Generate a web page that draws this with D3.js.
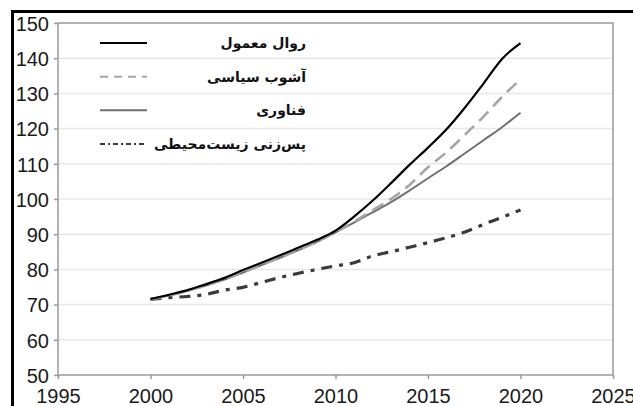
<!DOCTYPE html>
<html>
<head>
<meta charset="utf-8">
<script src="https://cdn.jsdelivr.net/npm/d3@7"></script>
<style>
  body { margin: 0; background: #fff; }
  svg { display: block; }
</style>
</head>
<body>
<svg></svg>
<script>
const width = 633;
const height = 406;
const svg = d3.select("svg").attr("width", width).attr("height", height);

const years = d3.range(2000, 2021);
const businessAsUsual = [71.6, 72.8, 74.1, 75.8, 77.6, 79.8, 81.9, 84.0, 86.2, 88.4, 91.0, 95.0, 99.5, 104.5, 109.7, 114.6, 119.8, 126.0, 132.8, 139.8, 144.3];
const politicalTurmoil = [71.5, 72.6, 73.9, 75.5, 77.2, 79.2, 81.3, 83.4, 85.6, 87.9, 90.6, 93.5, 96.8, 100.0, 104.0, 109.0, 113.3, 118.3, 123.4, 129.0, 134.0];
const technology = [71.5, 72.6, 73.9, 75.4, 77.1, 79.1, 81.2, 83.3, 85.5, 87.8, 90.5, 93.3, 96.2, 99.1, 102.4, 105.9, 109.3, 113.0, 116.7, 120.4, 124.5];
const envBacklash = [71.5, 72.0, 72.3, 72.9, 74.1, 74.9, 76.3, 77.7, 78.9, 80.0, 81.0, 81.9, 83.8, 85.0, 86.3, 87.6, 89.0, 90.6, 92.8, 94.8, 96.9];

const xTicks = [1995, 2000, 2005, 2010, 2015, 2020, 2025];
const yTicks = [50, 60, 70, 80, 90, 100, 110, 120, 130, 140, 150];

const series = [
  { name: "روال معمول", values: businessAsUsual, color: "#000", width: 2.2, dash: null, legendDash: null },
  { name: "آشوب سیاسی", values: politicalTurmoil, color: "#a6a6a6", width: 2.6, dash: "13,7", legendDash: "8,6" },
  { name: "فناوری", values: technology, color: "#707070", width: 2, dash: null, legendDash: null },
  { name: "پس‌زنی زیست‌محیطی", values: envBacklash, color: "#3a3a3a", width: 3.2, dash: "11,7,4,7", legendDash: "5,3,2,3" }
];

const margin = { left: 58, right: 20, top: 23, bottom: 31 };
const x = d3.scaleLinear().domain([1995, 2025]).range([margin.left, width - margin.right]);
const y = d3.scaleLinear().domain([50, 150]).range([height - margin.bottom, margin.top]);

// gridlines
svg.append("g")
  .selectAll("line")
  .data(yTicks.slice(1, -1))
  .join("line")
  .attr("x1", x(1995)).attr("x2", x(2025))
  .attr("y1", d => y(d)).attr("y2", d => y(d))
  .attr("stroke", "#e8e8e8")
  .attr("stroke-width", 1.5);

// plot frame
svg.append("rect")
  .attr("x", x(1995)).attr("y", y(150))
  .attr("width", x(2025) - x(1995)).attr("height", y(50) - y(150))
  .attr("fill", "none")
  .attr("stroke", "#9a9a9a")
  .attr("stroke-width", 1.5);

const xAxis = svg.append("g")
  .attr("transform", `translate(0,${y(50)})`)
  .call(d3.axisBottom(x).tickValues(xTicks).tickFormat(d3.format("d")).tickSize(4).tickPadding(10));
const yAxis = svg.append("g")
  .attr("transform", `translate(${x(1995)},0)`)
  .call(d3.axisLeft(y).tickValues(yTicks).tickSize(4).tickPadding(5));

[xAxis, yAxis].forEach(g => {
  g.select(".domain").remove();
  g.selectAll(".tick line").attr("stroke", "#9a9a9a").attr("stroke-width", 1.5);
  g.selectAll("text")
    .attr("fill", "#1a1a1a")
    .style("font-family", "'Liberation Sans', Arial, sans-serif")
    .style("font-size", "20px");
});
yAxis.selectAll("text").attr("dy", "0.36em");

const line = d3.line()
  .x((d, i) => x(years[i]))
  .y(d => y(d))
  .curve(d3.curveMonotoneX);

svg.append("g")
  .selectAll("path")
  .data(series.slice().reverse())
  .join("path")
  .attr("d", d => line(d.values))
  .attr("fill", "none")
  .attr("stroke", d => d.color)
  .attr("stroke-width", d => d.width)
  .attr("stroke-dasharray", d => d.dash)
  .attr("stroke-linejoin", "round");

// legend
const legendY = d3.scalePoint().domain(series.map(d => d.name)).range([43, 144]);
const legend = svg.append("g");
legend.selectAll("line")
  .data(series)
  .join("line")
  .attr("x1", 100).attr("x2", 147)
  .attr("y1", d => legendY(d.name)).attr("y2", d => legendY(d.name))
  .attr("stroke", d => d.color)
  .attr("stroke-width", d => Math.min(d.width, 2))
  .attr("stroke-dasharray", d => d.legendDash);
legend.selectAll("text")
  .data(series)
  .join("text")
  .attr("x", 306)
  .attr("y", d => legendY(d.name) + 5)
  .attr("text-anchor", "end")
  .attr("fill", "#111")
  .style("font-family", "'DejaVu Sans', sans-serif")
  .style("font-weight", "bold")
  .style("font-size", "14px")
  .text(d => d.name);

// outer black frame (top & left visible)
svg.append("path")
  .attr("d", `M12.5,${height + 5}V11.5H${width + 5}`)
  .attr("fill", "none")
  .attr("stroke", "#000")
  .attr("stroke-width", 3);
</script>
</body>
</html>
